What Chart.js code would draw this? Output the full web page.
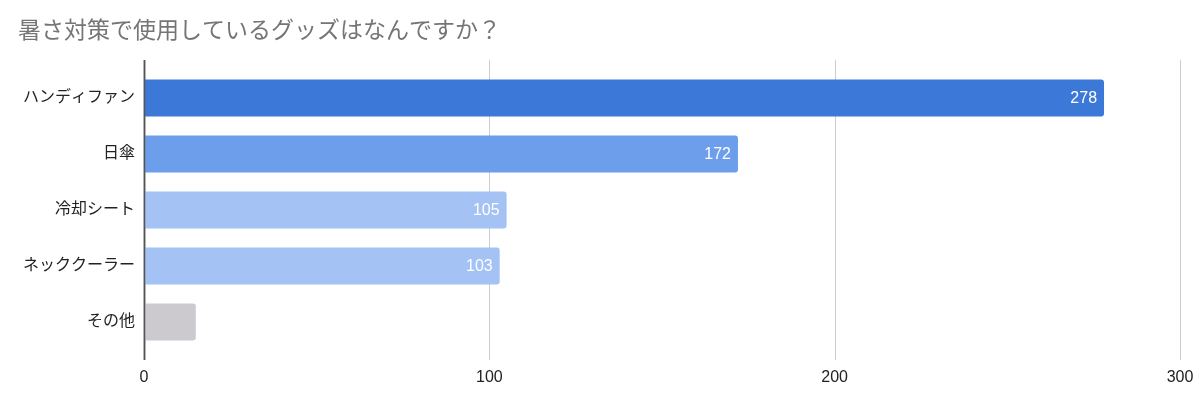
<!DOCTYPE html>
<html><head><meta charset="utf-8">
<script src="https://cdn.jsdelivr.net/npm/chart.js@4/dist/chart.umd.min.js"></script>
<style>html,body{margin:0;padding:0;background:#fff}#wrap{width:1200px;height:404px}</style>
</head><body><div id="wrap"><canvas id="c" width="1200" height="404"></canvas></div>
<script>
const title = '暑さ対策で使用しているグッズはなんですか？';
const categories = ['ハンディファン', '日傘', '冷却シート', 'ネッククーラー', 'その他'];
const values = [278, 172, 105, 103, 15];
const barColors = ['#3c78d8', '#6d9eeb', '#a4c2f4', '#a4c2f4', '#cccacf'];
const xTicks = [0, 100, 200, 300];

const FONT = '"Liberation Sans", "Noto Sans CJK JP", sans-serif';

const gridPlugin = {
  id: 'grid',
  beforeDatasetsDraw(chart) {
    const {ctx, chartArea, scales} = chart;
    ctx.save();
    xTicks.forEach(v => {
      const x = Math.round(scales.x.getPixelForValue(v)) + 0.5;
      ctx.beginPath();
      ctx.strokeStyle = v === 0 ? '#555555' : '#cccccc';
      ctx.lineWidth = v === 0 ? 1.5 : 1;
      ctx.moveTo(x, chartArea.top - 10);
      ctx.lineTo(x, chartArea.bottom + 10);
      ctx.stroke();
    });
    ctx.restore();
  },
  afterDatasetsDraw(chart) {
    const {ctx, scales} = chart;
    const x0 = Math.round(scales.x.getPixelForValue(0)) + 0.5;
    ctx.save();
    ctx.beginPath();
    ctx.strokeStyle = '#555555';
    ctx.lineWidth = 1.5;
    ctx.moveTo(x0, chart.chartArea.top - 10);
    ctx.lineTo(x0, chart.chartArea.bottom + 10);
    ctx.stroke();
    const meta = chart.getDatasetMeta(0);
    ctx.font = '16px ' + FONT;
    ctx.fillStyle = '#ffffff';
    ctx.textAlign = 'right';
    ctx.textBaseline = 'middle';
    meta.data.forEach((bar, i) => {
      if (bar.x - bar.base < 70) return;
      ctx.fillText(String(values[i]), bar.x - 7, bar.y + 1);
    });
    ctx.restore();
  }
};

new Chart(document.getElementById('c'), {
  type: 'bar',
  data: {
    labels: categories,
    datasets: [{
      data: values,
      backgroundColor: barColors,
      borderRadius: {topRight: 3, bottomRight: 3, topLeft: 0, bottomLeft: 0},
      borderSkipped: 'start',
      barPercentage: 0.66,
      categoryPercentage: 1
    }]
  },
  options: {
    indexAxis: 'y',
    responsive: false,
    animation: false,
    layout: {padding: {left: 18, right: 20, top: 0, bottom: 0}},
    plugins: {
      legend: {display: false},
      tooltip: {enabled: false},
      title: {
        display: true, text: title, align: 'start', color: '#757575',
        font: {family: FONT, size: 23, weight: 'normal', lineHeight: 1.2},
        padding: {top: 18, bottom: 24.4}
      }
    },
    scales: {
      x: {
        min: 0, max: 300,
        afterBuildTicks(s) { s.ticks = xTicks.map(v => ({value: v})); },
        afterFit(s) { s.height = 54; s.paddingLeft = 0; s.paddingRight = 0; },
        grid: {display: false, drawTicks: false},
        border: {display: false},
        ticks: {color: '#222222', padding: 18, font: {family: FONT, size: 16}}
      },
      y: {
        afterFit(s) { s.width = 126; s.paddingTop = 0; s.paddingBottom = 0; },
        grid: {display: false, drawTicks: false},
        border: {display: false},
        ticks: {color: '#222222', padding: 9, font: {family: FONT, size: 16}}
      }
    }
  },
  plugins: [gridPlugin]
});
</script></body></html>
